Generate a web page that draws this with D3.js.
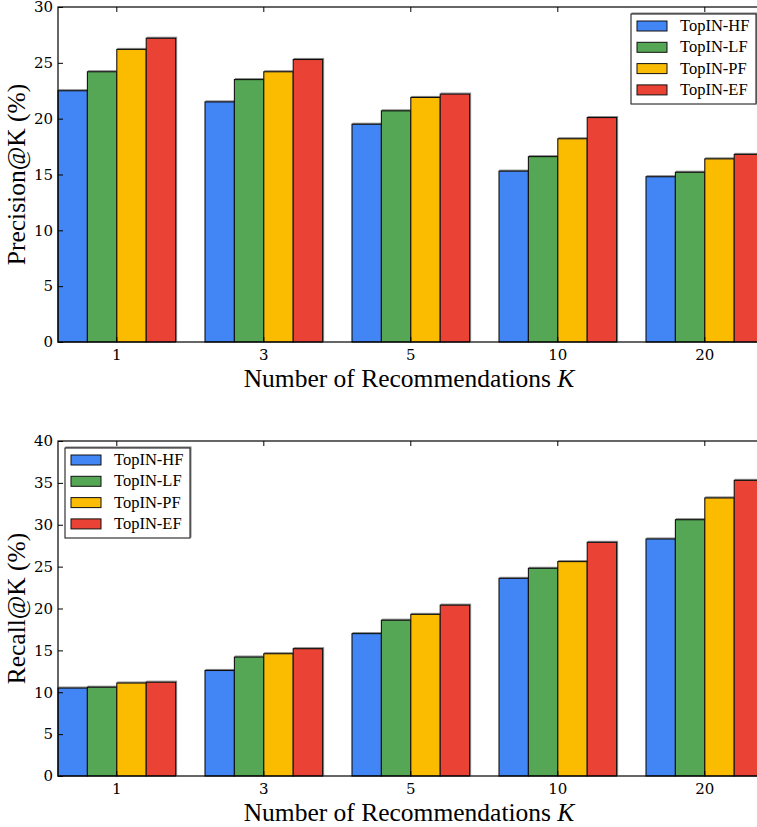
<!DOCTYPE html>
<html>
<head>
<meta charset="utf-8">
<script src="https://cdn.jsdelivr.net/npm/d3@7"></script>
<style>
  body { margin: 0; background: #fff; }
  svg { display: block; }
</style>
</head>
<body>
<svg id="chart" width="757" height="827"></svg>
<script>
// data
let kValues = ['1', '3', '5', '10', '20'];
let seriesNames = ['TopIN-HF', 'TopIN-LF', 'TopIN-PF', 'TopIN-EF'];
let seriesColors = ['#4285F4', '#55A755', '#FBBC05', '#EA4335'];

let precisionHF = [22.5, 21.5, 19.5, 15.3, 14.8];
let precisionLF = [24.2, 23.5, 20.7, 16.6, 15.2];
let precisionPF = [26.2, 24.2, 21.9, 18.2, 16.4];
let precisionEF = [27.2, 25.3, 22.2, 20.1, 16.8];

let recallHF = [10.5, 12.6, 17.0, 23.6, 28.3];
let recallLF = [10.6, 14.2, 18.6, 24.8, 30.6];
let recallPF = [11.1, 14.6, 19.3, 25.6, 33.2];
let recallEF = [11.2, 15.2, 20.4, 27.9, 35.3];

let precisionTicks = [0, 5, 10, 15, 20, 25, 30];
let recallTicks = [0, 5, 10, 15, 20, 25, 30, 35, 40];

let serif = '"Liberation Serif", "DejaVu Serif", serif';
let wideSerif = '"DejaVu Serif", serif'; // tick digits are wide in the reference
let svg = d3.select('#chart');

// drop shadow for bars and legend boxes
let defs = svg.append('defs');
let f = defs.append('filter').attr('id', 'shadow').attr('x', '-10%').attr('y', '-10%').attr('width', '130%').attr('height', '130%');
f.append('feOffset').attr('in', 'SourceAlpha').attr('dx', 1).attr('dy', -1).attr('result', 'off');
f.append('feColorMatrix').attr('in', 'off').attr('type', 'matrix')
  .attr('values', '0 0 0 0 0  0 0 0 0 0  0 0 0 0 0  0 0 0 0.45 0').attr('result', 'sh');
let fm = f.append('feMerge');
fm.append('feMergeNode').attr('in', 'sh');
fm.append('feMergeNode').attr('in', 'SourceGraphic');

panel({
  top: 7, bottom: 342, yMax: 30, ticks: precisionTicks,
  series: [precisionHF, precisionLF, precisionPF, precisionEF],
  yLabel: 'Precision@K (%)', legend: { x: 631, y: 14 }
});
panel({
  top: 441, bottom: 776, yMax: 40, ticks: recallTicks,
  series: [recallHF, recallLF, recallPF, recallEF],
  yLabel: 'Recall@K (%)', legend: { x: 65, y: 448 }
});

function panel(o) {
  let left = 58;
  let step = 147;
  let right = left + 4.8 * step; // runs past the window, like the reference

  // category bands: 0.8 of each step filled by the 4 bars
  let x = d3.scaleBand().domain(kValues)
    .range([left - 0.1 * step, left + 4.9 * step])
    .paddingInner(0.2).paddingOuter(0.1);
  let xs = d3.scaleBand().domain(seriesNames).range([0, x.bandwidth()]);
  let y = d3.scaleLinear().domain([0, o.yMax]).range([o.bottom, o.top]);

  let g = svg.append('g');

  // bars
  o.series.forEach((vals, si) => {
    g.selectAll(null).data(vals).enter().append('rect')
      .attr('x', (d, i) => x(kValues[i]) + xs(seriesNames[si]))
      .attr('y', (d) => y(d))
      .attr('width', xs.bandwidth())
      .attr('height', (d) => y(0) - y(d))
      .attr('fill', seriesColors[si])
      .attr('stroke', '#111')
      .attr('stroke-width', 1.1)
      .attr('filter', 'url(#shadow)');
  });

  // frame
  g.append('rect').attr('x', left).attr('y', o.top)
    .attr('width', right - left).attr('height', o.bottom - o.top)
    .attr('fill', 'none').attr('stroke', '#000').attr('stroke-width', 1.2);

  // y axis, ticks pointing in
  let yAxis = d3.axisLeft(y).tickValues(o.ticks).tickSize(-5).tickPadding(5).tickFormat(d3.format('d'));
  let ya = g.append('g').attr('transform', `translate(${left},0)`).call(yAxis)
    .attr('font-family', wideSerif).attr('font-size', 15);
  ya.select('.domain').remove();
  ya.selectAll('text').attr('fill', '#000');

  // x axis, ticks in at the bottom and the top
  let xAxis = d3.axisBottom(x).tickSize(-5).tickPadding(7);
  let xa = g.append('g').attr('transform', `translate(0,${o.bottom})`).call(xAxis)
    .attr('font-family', wideSerif).attr('font-size', 15);
  xa.select('.domain').remove();
  xa.selectAll('text').attr('fill', '#000');
  let xt = g.append('g').attr('transform', `translate(0,${o.top})`).call(d3.axisTop(x).tickSize(-5).tickFormat(''));
  xt.select('.domain').remove();

  // axis titles
  let xl = g.append('text').attr('x', 409).attr('y', o.bottom + 45)
    .attr('text-anchor', 'middle').attr('font-family', serif).attr('font-size', 25.5);
  xl.append('tspan').text('Number of Recommendations ');
  xl.append('tspan').attr('font-style', 'italic').text('K');

  g.append('text').attr('transform', `translate(25,${(o.top + o.bottom) / 2}) rotate(-90)`)
    .attr('text-anchor', 'middle').attr('font-family', serif).attr('font-size', 25.5).text(o.yLabel);

  // legend
  let lg = g.append('g').attr('transform', `translate(${o.legend.x},${o.legend.y})`);
  lg.append('rect').attr('width', 125).attr('height', 90)
    .attr('fill', '#fff').attr('stroke', '#222').attr('stroke-width', 1.1).attr('filter', 'url(#shadow)');
  seriesNames.forEach((name, i) => {
    let cy = 12 + i * 21.3;
    lg.append('rect').attr('x', 6).attr('y', cy - 5).attr('width', 30).attr('height', 10)
      .attr('fill', seriesColors[i]).attr('stroke', '#111').attr('stroke-width', 1);
    lg.append('text').attr('x', 49).attr('y', cy + 5).attr('font-family', serif)
      .attr('font-size', 16.5).text(name);
  });
}
</script>
</body>
</html>
